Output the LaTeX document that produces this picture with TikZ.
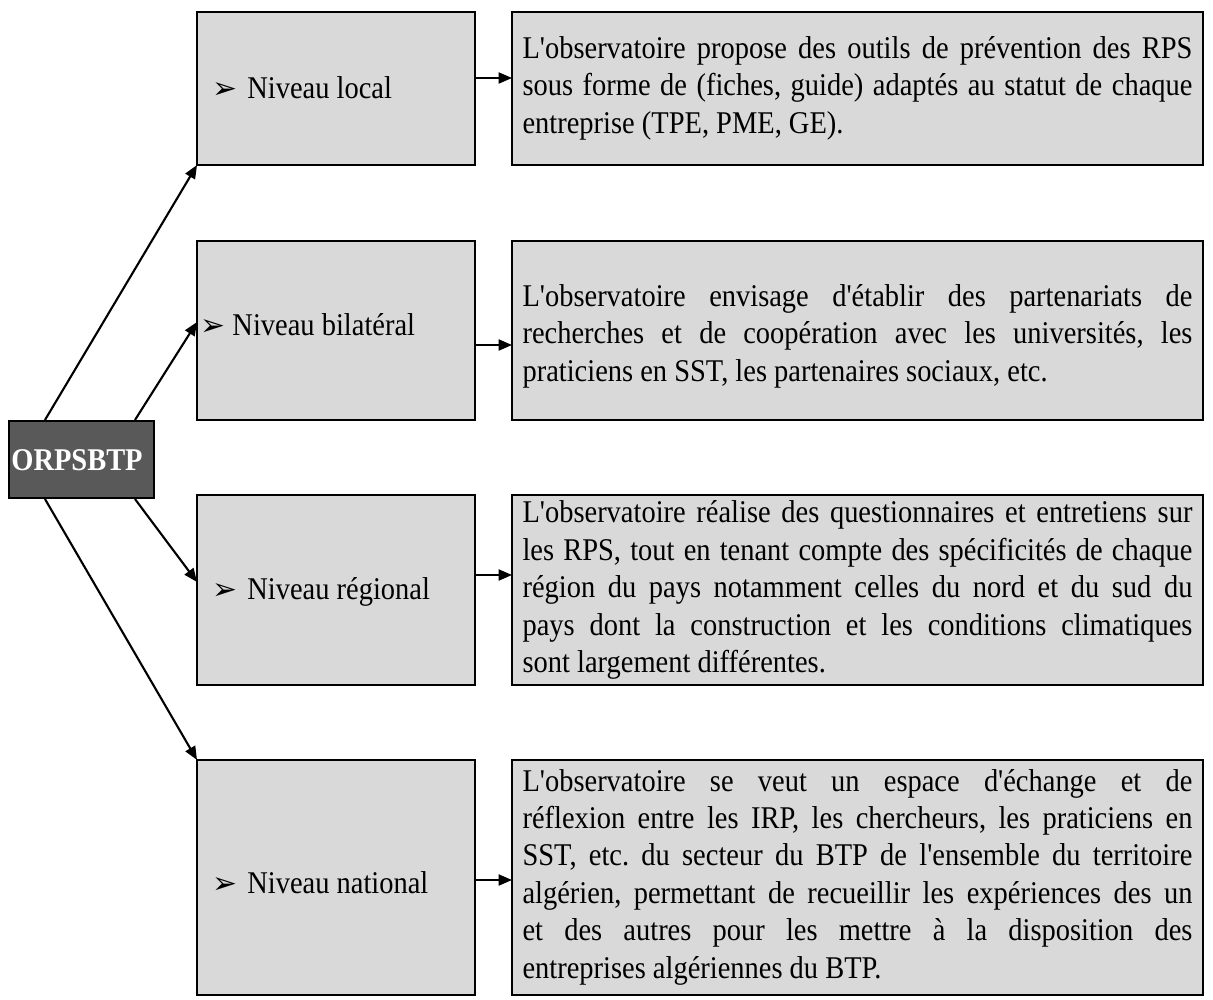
\documentclass[tikz,border=0pt]{standalone}
\usepackage{fontspec}
\newfontfamily\corps{Liberation Serif}[FakeStretch=0.9]
\newfontfamily\bulletfont{DejaVu Sans}
\usetikzlibrary{arrows.meta}

\definecolor{boxgray}{HTML}{D9D9D9}
\definecolor{rootgray}{HTML}{595959}

\newcommand{\puce}{{\bulletfont\fontsize{17}{17}\selectfont ➢}}

\begin{document}
\begin{tikzpicture}[x=0.02cm,y=-0.02cm]

\useasboundingbox (0,0) rectangle (1213,1000);

\tikzstyle{cadre}=[draw,line width=1.2pt,fill=boxgray,inner sep=0pt,outer sep=0pt]
\tikzstyle{lvlbox}=[cadre,minimum width=5.56cm]
\tikzstyle{descbox}=[cadre,minimum width=13.82cm]
\tikzstyle{desc}=[text width=13.4cm,align=justify,inner sep=0pt,font=\corps\fontsize{18}{21.3}\selectfont\frenchspacing]
\tikzstyle{lvl}=[inner sep=0pt,anchor=west,font=\corps\fontsize{18}{21.3}\selectfont]
\tikzstyle{arr}=[line width=1.2pt,-{Triangle[length=0.27cm,width=0.22cm]}]

\node (orps) [draw,line width=1.2pt,fill=rootgray,minimum width=2.9cm,minimum height=1.54cm,inner sep=0pt] at (81.5,459.5) {};
\node (torps) at (77,460) [text=white,font=\corps\bfseries\fontsize{18}{18}\selectfont] {ORPSBTP};

% niveaux
\node (local) [lvlbox,minimum height=3.06cm] at (336,88.5) {};
\node (bilat) [lvlbox,minimum height=3.58cm] at (336,330.5) {};
\node (region) [lvlbox,minimum height=3.8cm] at (336,590) {};
\node (nation) [lvlbox,minimum height=4.7cm] at (336,877.5) {};

\node (tlocal) [lvl] at (212,88) {\puce\hspace{0.2cm}Niveau local};
\node (tbilat) [lvl] at (200,325) {\puce\ Niveau bilatéral};
\node (tregion) [lvl] at (212,592) {\puce\hspace{0.2cm}Niveau régional};
\node (tnation) [lvl] at (212,883) {\puce\hspace{0.2cm}Niveau national};

% descriptions
\node (dlocal) [descbox,minimum height=3.06cm] at (857.5,88.5) {};
\node (dbilat) [descbox,minimum height=3.58cm] at (857.5,330.5) {};
\node (dregion) [descbox,minimum height=3.8cm] at (857.5,590) {};
\node (dnation) [descbox,minimum height=4.7cm] at (857.5,877.5) {};

\node (xlocal) [desc] at (857.5,88) {L'observatoire propose des outils de prévention des RPS\linebreak sous forme de (fiches, guide) adaptés au statut de chaque\linebreak entreprise (TPE, PME, GE).};
\node (xbilat) [desc] at (857.5,336) {L'observatoire envisage d'établir des partenariats de\linebreak recherches et de coopération avec les universités, les\linebreak praticiens en SST, les partenaires sociaux, etc.};
\node (xregion) [desc] at (857.5,590) {L'observatoire réalise des questionnaires et entretiens sur\linebreak les RPS, tout en tenant compte des spécificités de chaque\linebreak région du pays notamment celles du nord et du sud du\linebreak pays dont la construction et les conditions climatiques\linebreak sont largement différentes.};
\node (xnation) [desc] at (857.5,877) {L'observatoire se veut un espace d'échange et de\linebreak réflexion entre les IRP, les chercheurs, les praticiens en\linebreak SST, etc. du secteur du BTP de l'ensemble du territoire\linebreak algérien, permettant de recueillir les expériences des un\linebreak et des autres pour les mettre à la disposition des\linebreak entreprises algériennes du BTP.};

\draw[arr] (orps.north -| 45,0) -- (local.south west);
\draw[arr] (orps.north -| 135,0) -- (bilat.west |- 0,322);
\draw[arr] (orps.south -| 135,0) -- (region.west |- 0,582);
\draw[arr] (orps.south -| 45,0) -- (nation.north west);

\draw[arr] (local.east |- 0,78) -- (dlocal.west |- 0,78);
\draw[arr] (bilat.east |- 0,345) -- (dbilat.west |- 0,345);
\draw[arr] (region.east |- 0,575) -- (dregion.west |- 0,575);
\draw[arr] (nation.east |- 0,880) -- (dnation.west |- 0,880);

\end{tikzpicture}
\end{document}
